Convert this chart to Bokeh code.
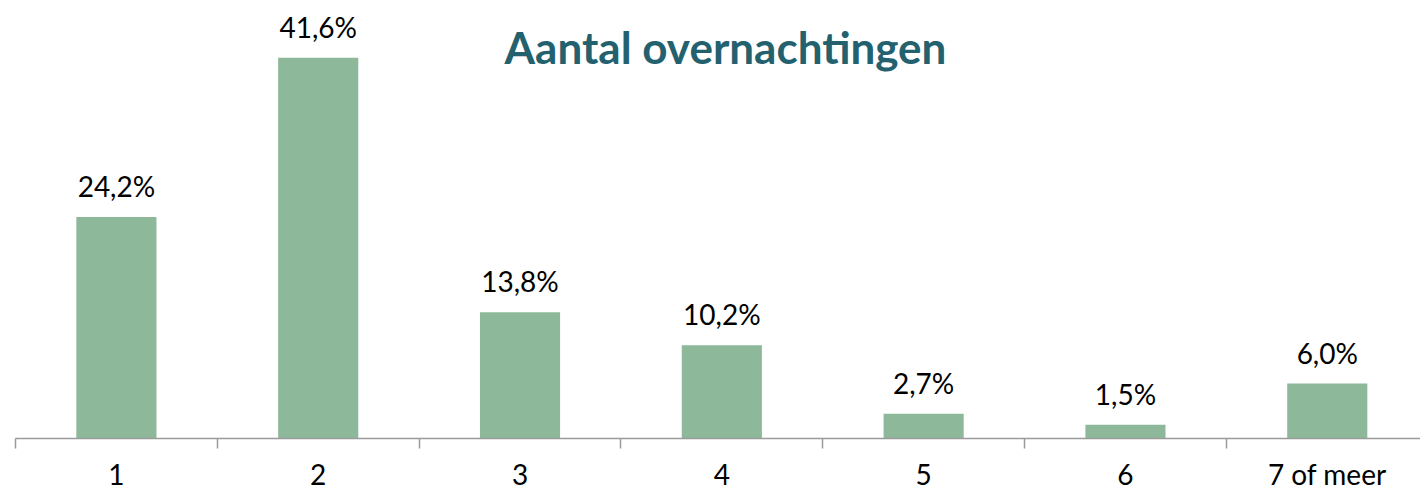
from bokeh.plotting import figure
from bokeh.models import ColumnDataSource, Range1d, FixedTicker, LabelSet, Label
from bokeh.core.properties import value
from bokeh.embed import file_html
from bokeh.resources import INLINE

categories = ["1", "2", "3", "4", "5", "6", "7 of meer"]
values = [24.2, 41.6, 13.8, 10.2, 2.7, 1.5, 6.0]
labels = ["24,2%", "41,6%", "13,8%", "10,2%", "2,7%", "1,5%", "6,0%"]
title_text = "Aantal overnachtingen"

xs = [i + 0.5 for i in range(len(categories))]
src = ColumnDataSource(dict(x=xs, top=values, lab=labels))

p = figure(frame_width=1405, frame_height=438, output_backend="svg", toolbar_location=None,
           x_range=Range1d(0, 6.962), y_range=Range1d(0, 47.85),
           min_border_left=15, min_border_right=0, min_border_top=0, min_border_bottom=0)
p.outline_line_color = None
p.background_fill_color = "white"
p.border_fill_color = "white"
p.grid.visible = False
p.yaxis.visible = False

p.vbar(x="x", top="top", width=0.397, bottom=0, source=src,
       fill_color="#8DB89A", line_color=None)

ax = p.xaxis[0]
ax.ticker = FixedTicker(ticks=xs, minor_ticks=list(range(len(categories) + 1)))
ax.major_label_overrides = {x: c for x, c in zip(xs, categories)}
ax.major_tick_out = 0
ax.major_tick_in = 0
ax.minor_tick_out = 10
ax.minor_tick_in = 0
ax.minor_tick_line_color = "#9a9a9a"
ax.minor_tick_line_width = 1.5
ax.axis_line_color = "#9a9a9a"
ax.axis_line_width = 1.5
ax.major_label_text_font = "Lato"
ax.major_label_text_font_size = "28px"
ax.major_label_text_color = "#000000"
ax.major_label_standoff = 8

ls = LabelSet(x="x", y="top", text="lab", source=src, text_align="center",
              text_baseline="alphabetic", y_offset=20,
              text_font=value("Lato"), text_font_size="28px", text_color="#000000")
p.add_layout(ls)

t = Label(x=710, y=392, x_units="screen", y_units="screen", text=title_text,
          text_align="center", text_baseline="alphabetic",
          text_font="Lato", text_font_style="bold", text_font_size="44px",
          text_color="#23616F")
p.add_layout(t)

open("out.html", "w").write(file_html(p, INLINE))
